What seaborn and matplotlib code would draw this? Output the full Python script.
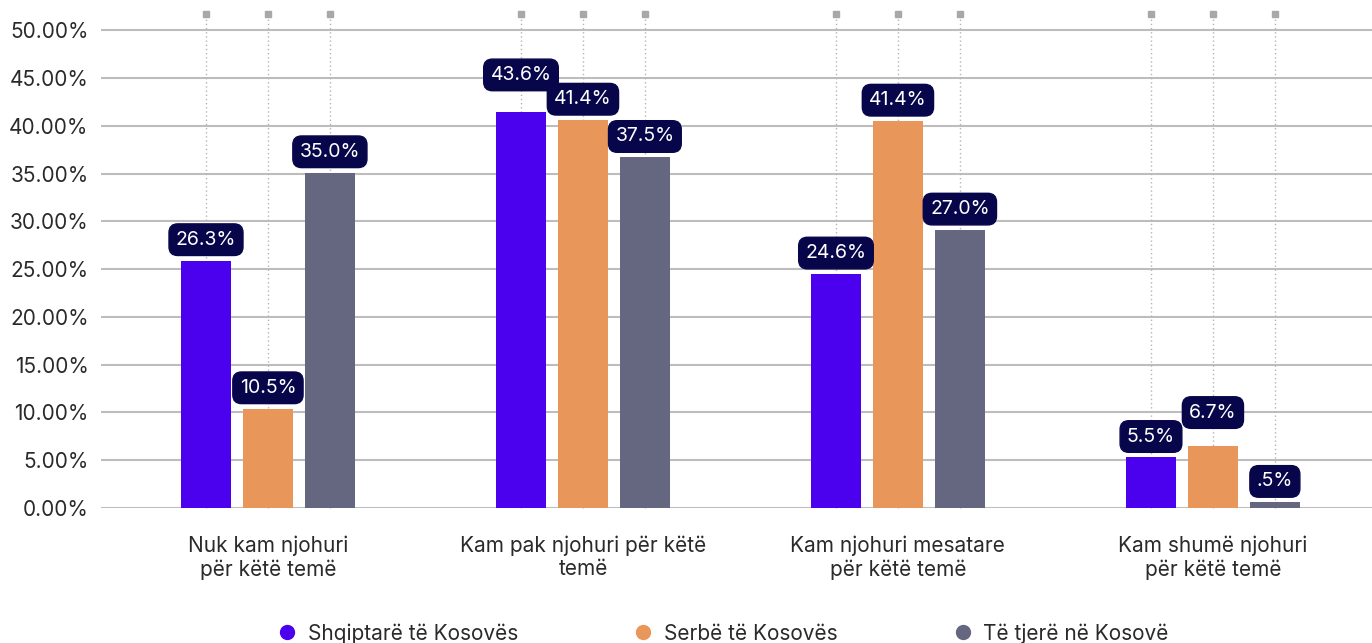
import pandas as pd
import matplotlib
matplotlib.use('Agg')
import matplotlib.pyplot as plt
from matplotlib.lines import Line2D
from matplotlib.ticker import FuncFormatter
import seaborn as sns

# Data
categories = [
    'Nuk kam njohuri\npër këtë temë',
    'Kam pak njohuri për këtë\ntemë',
    'Kam njohuri mesatare\npër këtë temë',
    'Kam shumë njohuri\npër këtë temë',
]
groups = ['Shqiptarë të Kosovës', 'Serbë të Kosovës', 'Të tjerë në Kosovë']

# bar heights (%), as drawn
albanians = [25.9, 41.4, 24.5, 5.3]
serbs = [10.4, 40.6, 40.5, 6.5]
others = [35.1, 36.7, 29.1, 0.6]

# value labels, as printed on the chart
albanians_lbl = ['26.3%', '43.6%', '24.6%', '5.5%']
serbs_lbl = ['10.5%', '41.4%', '41.4%', '6.7%']
others_lbl = ['35.0%', '37.5%', '27.0%', '.5%']

colors = ['#4b00ee', '#e8965a', '#65667f']

df = pd.DataFrame({
    'category': categories * 3,
    'group': [g for g in groups for _ in categories],
    'value': albanians + serbs + others,
})
labels = [albanians_lbl, serbs_lbl, others_lbl]

sns.set_style('white')
plt.rcParams['font.family'] = ['Inter', 'DejaVu Sans']

fig = plt.figure(figsize=(13.72, 6.43), dpi=100)
ax = fig.add_axes([101 / 1372, 135 / 643, 1 - 101 / 1372, (508 - 14) / 643])

sns.barplot(
    data=df, x='category', y='value', hue='group',
    order=categories, hue_order=groups, palette=colors,
    width=0.59, gap=0.2, saturation=1, linewidth=0,
    legend=False, ax=ax, zorder=3,
)

ax.set_ylim(0, 51.7)
ax.set_xlim(-0.53, 3.505)
ax.set_yticks(range(0, 51, 5))
ax.yaxis.set_major_formatter(FuncFormatter(lambda v, p: f'{v:.2f}%'))
ax.grid(axis='y', color='#bdbdbd', lw=1.5, zorder=0)
ax.grid(axis='x', visible=False)
for s in ax.spines.values():
    s.set_visible(False)
ax.tick_params(axis='y', length=0, pad=9, labelsize=15, labelcolor='#2a2a2a')
ax.tick_params(axis='x', length=0, pad=20, labelsize=15, labelcolor='#2a2a2a')
ax.set_xlabel('')
ax.set_ylabel('')

# dotted guides with square caps and the boxed value labels
# (category index, group index) -> extra lift in points for crowded labels
extra = {(1, 0): 12, (3, 1): 9}
for gi, cont in enumerate(ax.containers):
    for ci, bar in enumerate(cont):
        xc = bar.get_x() + bar.get_width() / 2
        h = bar.get_height()
        ax.plot([xc, xc], [0, 51.7], ls=(0, (1, 2)), color='#b5b5b5', lw=1, zorder=1, clip_on=False)
        ax.plot([xc], [51.7], marker='s', ms=4.5, color='#a8a8a8', zorder=2, clip_on=False)
        off = 15 + extra.get((ci, gi), 0)
        ax.annotate(
            labels[gi][ci], (xc, h), xytext=(0, off), textcoords='offset points',
            ha='center', va='center', fontsize=14, color='white', zorder=5,
            bbox=dict(boxstyle='round,pad=0.35,rounding_size=0.45', fc='#08064a', ec='#08064a'),
        )

handles = [Line2D([], [], marker='o', ls='', ms=10, color=c) for c in colors]
fig.legend(
    handles, groups, loc='lower center', bbox_to_anchor=(0.523, -0.03), ncol=3,
    frameon=False, fontsize=15, handletextpad=0.0, columnspacing=5.0,
    labelcolor='#2a2a2a',
)

fig.savefig('out.png', dpi=100)
